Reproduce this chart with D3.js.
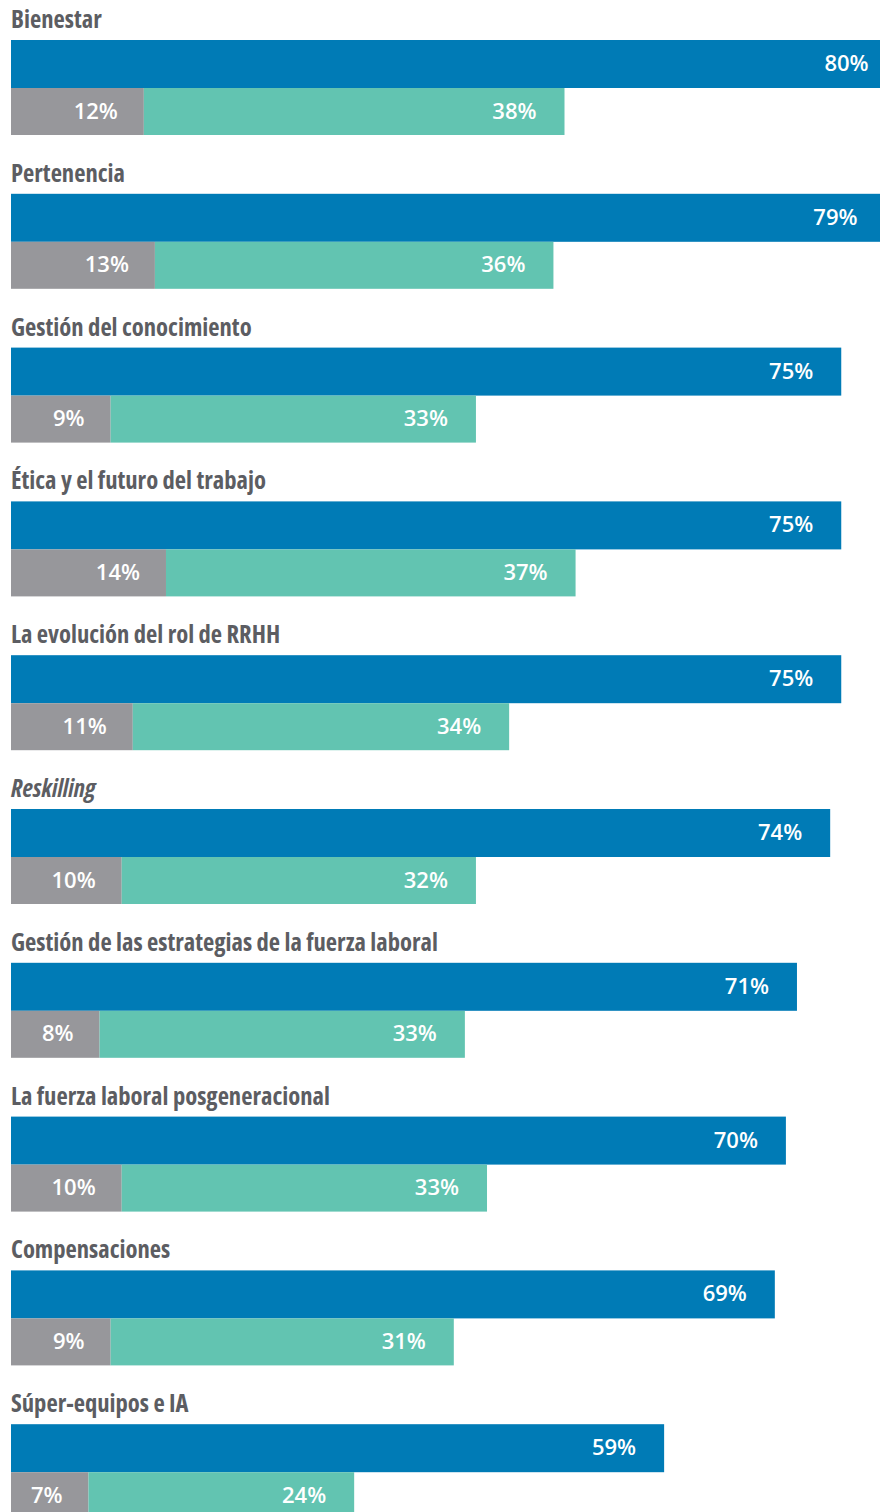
<!DOCTYPE html>
<html>
<head>
<meta charset="utf-8">
<script src="https://cdn.jsdelivr.net/npm/d3@7/dist/d3.min.js"></script>
<style>
  html, body { margin: 0; padding: 0; background: #ffffff; }
  svg { display: block; }
  .title { font-family: "Open Sans", sans-serif; font-weight: 700; font-stretch: 75%; font-size: 24.6px; fill: #5c5d62; }
  .value { font-family: "Open Sans", sans-serif; font-weight: 600; font-size: 22px; fill: #ffffff; }
</style>
</head>
<body>
<svg id="chart" width="880" height="1512"></svg>
<script>
// Topics and their shares (%)
const categories = [
  "Bienestar",
  "Pertenencia",
  "Gestión del conocimiento",
  "Ética y el futuro del trabajo",
  "La evolución del rol de RRHH",
  "Reskilling",
  "Gestión de las estrategias de la fuerza laboral",
  "La fuerza laboral posgeneracional",
  "Compensaciones",
  "Súper-equipos e IA"
];
const importance = [80, 79, 75, 75, 75, 74, 71, 70, 69, 59];
const notReady   = [12, 13, 9, 14, 11, 10, 8, 10, 9, 7];
const ready      = [38, 36, 33, 37, 34, 32, 33, 33, 31, 24];
const italicTitles = ["Reskilling"];

const colors = { importance: "#007bb6", notReady: "#97979b", ready: "#62c4b1" };

const rows = categories.map((c, i) => ({
  cat: c, imp: importance[i], nr: notReady[i], r: ready[i]
}));

const svg = d3.select("#chart");

const x = d3.scaleLinear().domain([0, 100]).range([11, 1118]);
const y = d3.scaleBand().domain(categories).range([40, 40 + 153.8 * categories.length]).paddingInner(0);

const barH = 48, lowH = 47, pad = 28;

const g = svg.append("g").selectAll("g.row").data(rows).join("g").attr("class", "row")
  .attr("transform", d => `translate(0,${y(d.cat)})`);

// topic heading
g.append("text").attr("class", "title")
  .attr("x", 11).attr("y", -12)
  .style("font-style", d => italicTitles.includes(d.cat) ? "italic" : null)
  .text(d => d.cat);

// importance bar
g.append("rect").attr("x", x(0)).attr("y", 0)
  .attr("width", d => x(d.imp) - x(0)).attr("height", barH)
  .attr("fill", colors.importance);
g.append("text").attr("class", "value").attr("text-anchor", "end")
  .attr("x", d => x(d.imp) - pad).attr("y", barH / 2 + 7)
  .text(d => d.imp + "%");

// readiness stacked bar
g.append("rect").attr("x", x(0)).attr("y", barH)
  .attr("width", d => x(d.nr) - x(0)).attr("height", lowH)
  .attr("fill", colors.notReady);
g.append("rect").attr("x", d => x(d.nr)).attr("y", barH)
  .attr("width", d => x(d.nr + d.r) - x(d.nr)).attr("height", lowH)
  .attr("fill", colors.ready);
g.append("text").attr("class", "value").attr("text-anchor", "end")
  .attr("x", d => x(d.nr) - pad + 2).attr("y", barH + lowH / 2 + 7)
  .text(d => d.nr + "%");
g.append("text").attr("class", "value").attr("text-anchor", "end")
  .attr("x", d => x(d.nr + d.r) - pad).attr("y", barH + lowH / 2 + 7)
  .text(d => d.r + "%");
</script>
</body>
</html>
